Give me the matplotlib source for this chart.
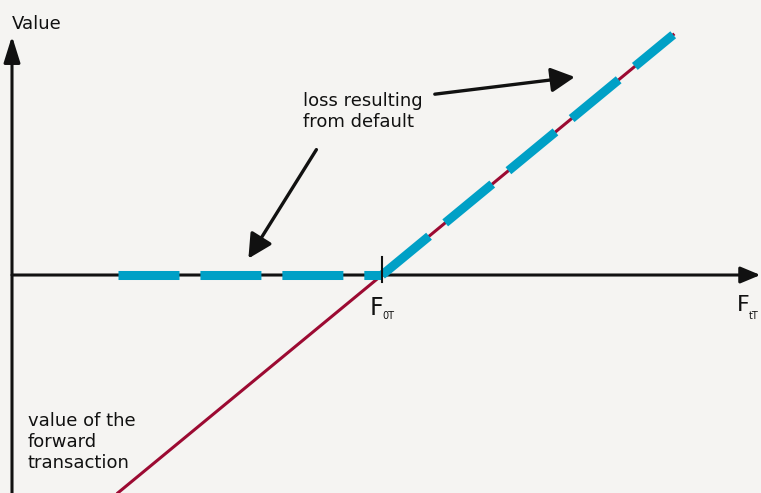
import matplotlib.pyplot as plt
from matplotlib.patches import FancyArrowPatch

plt.rcParams['font.family'] = ['DejaVu Sans']
plt.rcParams['lines.scale_dashes'] = False

# forward price at inception (strike) and price range shown
F0T = 100
F_red = [67, 136.4]          # value of the forward: F - F0T
F_flat = [67, 100]            # loss from default, flat part
F_up = [100, 136.4]           # loss from default, rising part

val_red = [f - F0T for f in F_red]
val_flat = [0, 0]
val_up = [max(f - F0T, 0) for f in F_up]

# annotation arrows (start, tip) in (F, value)
arrow_right = [(106.6, 27.4), (124.1, 30.0)]
arrow_left = [(91.8, 19.0), (83.3, 2.5)]

BG = '#f5f4f2'
CYAN = '#00a0c6'
RED = '#9c0a32'
INK = '#111111'

fig = plt.figure(figsize=(7.61, 4.93), dpi=100, facecolor=BG)
ax = fig.add_axes([0, 0, 1, 1])
ax.set_facecolor(BG)
ax.set_xlim(52.25, 147.375)
ax.set_ylim(-33.03, 41.67)
ax.axis('off')

# axes with arrowheads
x_left, x_right = 53.75, 147.3
y_bot, y_top = -33.1, 36.2
ax.add_patch(FancyArrowPatch((x_left, y_bot), (x_left, y_top),
                             arrowstyle='-|>,head_length=1.6,head_width=0.5',
                             mutation_scale=10, lw=2.2, color=INK,
                             shrinkA=0, shrinkB=0, zorder=2))
ax.add_patch(FancyArrowPatch((x_left, 0), (x_right, 0),
                             arrowstyle='-|>,head_length=1.2,head_width=0.5',
                             mutation_scale=10, lw=2.2, color=INK,
                             shrinkA=0, shrinkB=0, zorder=2))

# value of the forward transaction
ax.plot(F_red, val_red, color=RED, lw=2.2, zorder=3)

# loss resulting from default (dashed)
ax.plot(F_flat, val_flat, color=CYAN, lw=6.5, dashes=(43.9, 15.1),
        solid_capstyle='butt', dash_capstyle='butt', zorder=4)
ax.plot(F_up, val_up, color=CYAN, lw=6.5, dashes=(43.9, 15.1),
        solid_capstyle='butt', dash_capstyle='butt', zorder=4)

# tick at F0T
ax.plot([F0T, F0T], [2.7, -1.1], color=INK, lw=1.5, zorder=5)

# annotation arrows
for start, tip in (arrow_right, arrow_left):
    ax.add_patch(FancyArrowPatch(start, tip,
                                 arrowstyle='-|>,head_length=1.45,head_width=0.75',
                                 mutation_scale=10, lw=2.4, color=INK,
                                 shrinkA=0, shrinkB=0, zorder=6))

# texts
ax.text(53.75, 37.3, 'Value', fontsize=13, color=INK, ha='left', va='baseline')
ax.text(98.5, -6.1, 'F', fontsize=17, color=INK, ha='left', va='baseline')
ax.text(100.1, -6.6, '0T', fontsize=7, color=INK, ha='left', va='baseline')
ax.text(144.4, -5.5, 'F', fontsize=16, color=INK, ha='left', va='baseline')
ax.text(145.9, -6.7, 'tT', fontsize=7, color=INK, ha='left', va='baseline')
ax.text(90.1, 27.75, 'loss resulting\nfrom default', fontsize=13, color=INK,
        ha='left', va='top', linespacing=1.2)
ax.text(55.75, -20.8, 'value of the\nforward\ntransaction', fontsize=13,
        color=INK, ha='left', va='top', linespacing=1.2)

fig.savefig('out.png', dpi=100, facecolor=BG)
